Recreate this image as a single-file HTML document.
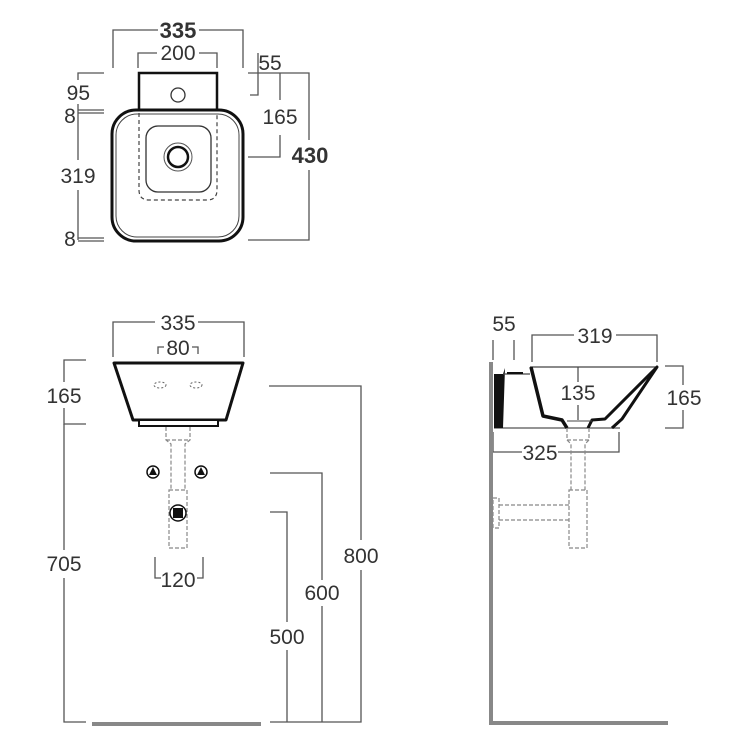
<!DOCTYPE html>
<html><head><meta charset="utf-8"><style>
html,body{margin:0;padding:0;background:#fff;}
svg{display:block;}
text{font-family:"Liberation Sans",sans-serif;fill:#333;}
</style></head><body>
<svg width="754" height="755" viewBox="0 0 754 755" xmlns="http://www.w3.org/2000/svg">
<g fill="none" stroke="#555" stroke-width="1.3">
<!-- TOP VIEW dims -->
<polyline points="113,68 113,30 158,30"/><polyline points="199,30 243,30 243,68"/>
<polyline points="138,68 138,53 157,53"/><polyline points="199,53 217,53 217,68"/>
<polyline points="250,95 258,95 258,53"/>
<polyline points="248,157 280,157 280,135"/><line x1="280" y1="73" x2="280" y2="100"/>
<polyline points="248,73 309,73 309,140"/><polyline points="248,240 309,240 309,170"/>
<polyline points="104,73 78,73 78,80"/><line x1="78" y1="104" x2="78" y2="160"/>
<line x1="78" y1="190" x2="78" y2="240"/>
<line x1="78" y1="110" x2="104" y2="110"/><line x1="78" y1="113" x2="104" y2="113"/>
<line x1="78" y1="238" x2="104" y2="238"/><line x1="78" y1="241" x2="104" y2="241"/>
<!-- FRONT dims -->
<polyline points="113,357 113,322 155,322"/><polyline points="198,322 244,322 244,357"/>
<polyline points="158,354 158,347 164,347"/><polyline points="192,347 198,347 198,354"/>
<polyline points="86,360 64,360 64,382"/><polyline points="86,424 64,424 64,408"/>
<line x1="64" y1="424" x2="64" y2="550"/><polyline points="64,578 64,722 86,722"/>
<polyline points="269,386 361,386 361,540"/><polyline points="361,570 361,722 270,722"/>
<polyline points="270,473 322,473 322,580"/><line x1="322" y1="606" x2="322" y2="722"/>
<polyline points="270,512 287,512 287,622"/><line x1="287" y1="650" x2="287" y2="722"/>
<polyline points="155,557 155,578 161,578"/><polyline points="197,578 203,578 203,557"/>
<!-- SIDE dims -->
<line x1="493" y1="340" x2="493" y2="360"/><line x1="514" y1="340" x2="514" y2="360"/>
<polyline points="532,362 532,335 574,335"/><polyline points="616,335 657,335 657,362"/>
<line x1="578" y1="367" x2="578" y2="382"/><line x1="578" y1="405" x2="578" y2="420"/>
<polyline points="665,366 683,366 683,385"/><polyline points="665,428 683,428 683,410"/>
<polyline points="493,432 493,452 522,452"/><polyline points="558,452 619,452 619,432"/>
<line x1="494" y1="428" x2="620" y2="428"/>
</g>
<!-- floors -->
<g stroke="#888" stroke-width="4" fill="none">
<line x1="92" y1="724" x2="261" y2="724"/>
<polyline points="491,362 491,723 668,723"/>
</g>
<!-- TOP VIEW shapes -->
<rect x="139" y="73" width="78" height="37" fill="none" stroke="#111" stroke-width="2.5"/>
<circle cx="178" cy="95" r="7" fill="none" stroke="#333" stroke-width="1.3"/>
<rect x="112" y="110" width="131" height="131" rx="24" fill="#fff" stroke="#111" stroke-width="3"/>
<rect x="116" y="114" width="123" height="123" rx="21" fill="none" stroke="#444" stroke-width="1"/>
<path d="M139,113 V190 Q139,200 149,200 H207 Q217,200 217,190 V113" fill="none" stroke="#444" stroke-width="1.2" stroke-dasharray="4,3"/>
<rect x="146" y="126" width="65" height="66" rx="12" fill="none" stroke="#333" stroke-width="1.3"/>
<circle cx="178" cy="157" r="14" fill="none" stroke="#555" stroke-width="1"/>
<circle cx="178" cy="157" r="10" fill="none" stroke="#111" stroke-width="2.5"/>
<!-- FRONT shapes -->
<path d="M114,363 L243,363 L226,420 L133,420 Z" fill="#fff" stroke="#111" stroke-width="3" stroke-linejoin="round"/>
<rect x="139" y="420" width="79" height="6" fill="#fff" stroke="#111" stroke-width="2"/>
<ellipse cx="160" cy="385" rx="6" ry="3" fill="none" stroke="#666" stroke-dasharray="2,2"/>
<ellipse cx="196" cy="385" rx="6" ry="3" fill="none" stroke="#666" stroke-dasharray="2,2"/>
<g fill="none" stroke="#888" stroke-width="1.2" stroke-dasharray="4,2">
<path d="M166,427 V440 L171,444 V490 M190,427 V440 L185,444 V490 M166,440 H190"/>
<rect x="169" y="490" width="18" height="58"/>
</g>
<g stroke="#111" stroke-width="1.5">
<circle cx="153" cy="472" r="6" fill="#fff"/><circle cx="201" cy="472" r="6" fill="#fff"/>
</g>
<path d="M153,467 L157,475 L149,475Z M201,467 L205,475 L197,475Z" fill="#111"/>
<circle cx="178" cy="513" r="8" fill="#fff" stroke="#111" stroke-width="1.5"/>
<rect x="173" y="508" width="10" height="10" fill="#111"/>
<!-- SIDE shapes -->
<path d="M494,374 L503,374 L505,368 L503,428 L494,428Z" fill="#111"/>
<line x1="503" y1="374" x2="530" y2="374" stroke="#444" stroke-width="1.2"/>
<line x1="507" y1="373" x2="523" y2="373" stroke="#111" stroke-width="2"/>
<line x1="530" y1="367" x2="657" y2="367" stroke="#444" stroke-width="1.2"/>
<path d="M531,367 L543,416 L562,420 L567,428" fill="none" stroke="#111" stroke-width="3.5" stroke-linejoin="round"/>
<path d="M588,428 L592,420 L605,419 L657,367 L622,419 L612,428" fill="none" stroke="#111" stroke-width="3" stroke-linejoin="round"/>
<line x1="567" y1="421" x2="592" y2="421" stroke="#444" stroke-width="1"/>
<g fill="none" stroke="#888" stroke-width="1.2" stroke-dasharray="4,2">
<path d="M567,428 V440 L571,444 V490 M589,428 V440 L585,444 V490 M567,440 H589"/>
<rect x="569" y="490" width="18" height="58"/>
<path d="M569,505 H498 M569,520 H498"/>
<rect x="493" y="498" width="6" height="30"/>
</g>
<!-- labels -->
<g font-size="21">
<text x="178" y="38" text-anchor="middle" font-weight="bold" font-size="22" fill="#222">335</text>
<text x="178" y="60" text-anchor="middle">200</text>
<text x="270" y="70" text-anchor="middle">55</text>
<text x="280" y="124" text-anchor="middle">165</text>
<text x="310" y="163" text-anchor="middle" font-weight="bold" font-size="22" fill="#222">430</text>
<text x="78" y="100" text-anchor="end" dx="12">95</text>
<text x="70" y="123" text-anchor="middle">8</text>
<text x="78" y="183" text-anchor="middle">319</text>
<text x="70" y="246" text-anchor="middle">8</text>
<text x="178" y="330" text-anchor="middle">335</text>
<text x="178" y="355" text-anchor="middle">80</text>
<text x="64" y="403" text-anchor="middle">165</text>
<text x="64" y="571" text-anchor="middle">705</text>
<text x="361" y="563" text-anchor="middle">800</text>
<text x="322" y="600" text-anchor="middle">600</text>
<text x="287" y="644" text-anchor="middle">500</text>
<text x="178" y="587" text-anchor="middle">120</text>
<text x="504" y="331" text-anchor="middle">55</text>
<text x="595" y="343" text-anchor="middle">319</text>
<text x="578" y="400" text-anchor="middle">135</text>
<text x="684" y="405" text-anchor="middle">165</text>
<text x="540" y="460" text-anchor="middle">325</text>
</g>
</svg>
</body></html>
